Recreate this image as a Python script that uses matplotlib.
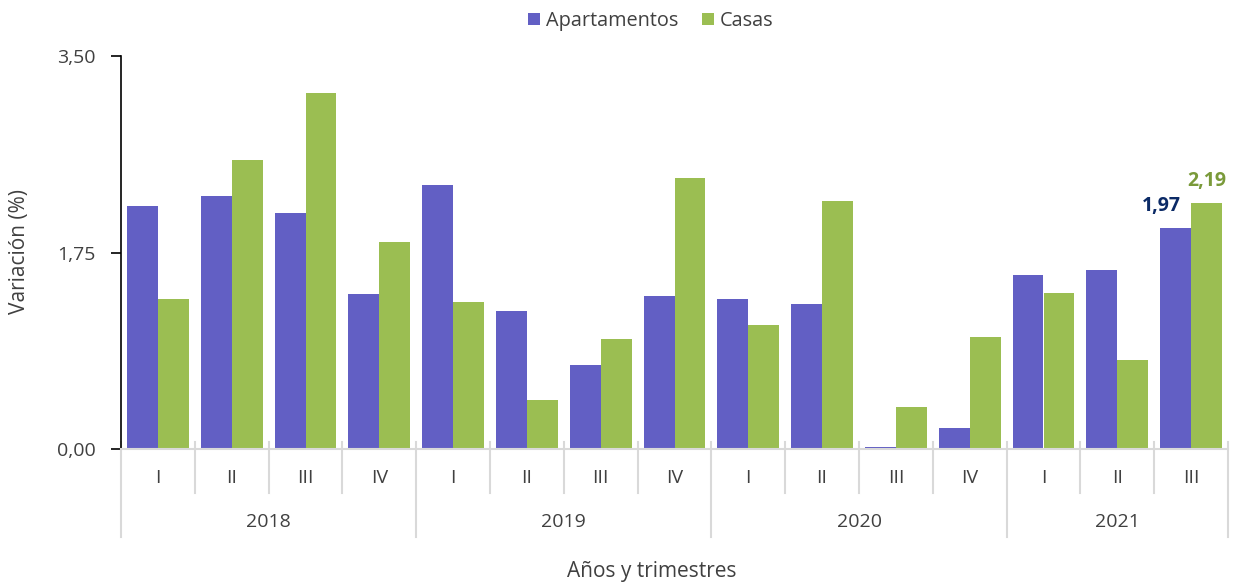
import matplotlib
matplotlib.use("Agg")
import matplotlib.pyplot as plt
import matplotlib.transforms as mtransforms
import numpy as np

plt.rcParams['font.family'] = ['Open Sans', 'DejaVu Sans']

years = ["2018", "2019", "2020", "2021"]
quarters = ["I", "II", "III", "IV", "I", "II", "III", "IV", "I", "II", "III", "IV", "I", "II", "III"]
quarters_per_year = [4, 4, 4, 3]
apartamentos = [2.16, 2.25, 2.10, 1.38, 2.35, 1.23, 0.75, 1.36, 1.34, 1.29, 0.02, 0.19, 1.55, 1.59, 1.97]
casas = [1.34, 2.57, 3.17, 1.84, 1.31, 0.44, 0.98, 2.41, 1.10, 2.21, 0.37, 1.00, 1.39, 0.79, 2.19]
series_names = ["Apartamentos", "Casas"]
yticks = [0.0, 1.75, 3.5]

c_apt = "#625FC4"
c_cas = "#9BBE52"
txt = "#404040"
sep = "#D9D9D9"

fig = plt.figure(figsize=(12.36, 5.86), dpi=100)
ax = fig.add_axes([121/1236, 1-449/586, (1228-121)/1236, (449-56)/586])

x = np.arange(len(quarters))
w = 0.42
b1 = ax.bar(x - w/2, apartamentos, w, color=c_apt, label=series_names[0], edgecolor="none")
b2 = ax.bar(x + w/2, casas, w, color=c_cas, label=series_names[1], edgecolor="none")

ax.set_xlim(-0.5, len(quarters) - 0.5)
ax.set_ylim(0, 3.5)
ax.set_yticks(yticks)
ax.set_yticklabels([f"{v:.2f}".replace(".", ",") for v in yticks], fontsize=14, color=txt)
ax.tick_params(axis='y', direction='out', length=7, width=1.2, color="black", pad=11)
ax.set_xticks([])

for s in ["top", "right"]:
    ax.spines[s].set_visible(False)
ax.spines["left"].set_color("black")
ax.spines["left"].set_linewidth(1.2)
ax.spines["bottom"].set_color(sep)
ax.spines["bottom"].set_linewidth(1.5)

# hierarchical axis
trans = mtransforms.blended_transform_factory(ax.transData, ax.transAxes)
ah = 393.0
year_bounds = np.cumsum([0] + quarters_per_year)
for i in range(len(quarters) + 1):
    xb = i - 0.5
    long_ = i in year_bounds
    y0 = -(88 if long_ else 44) / ah
    ax.plot([xb, xb], [7/ah, y0], transform=trans, color=sep, lw=1.5, clip_on=False, zorder=0)
for i, q in enumerate(quarters):
    ax.text(i, -29/ah, q, transform=trans, ha="center", va="center", fontsize=14, color=txt)
for k, yr in enumerate(years):
    c = (year_bounds[k] + year_bounds[k+1] - 1) / 2
    ax.text(c, -73/ah, yr, transform=trans, ha="center", va="center", fontsize=14, color=txt)

fig.text(652/1236, 1-572/586, "Años y trimestres", ha="center", va="center", fontsize=15, color=txt)
fig.text(20/1236, 1-252/586, "Variación (%)", rotation=90, ha="center", va="center", fontsize=15, color=txt)

# data labels for last quarter
last = len(quarters) - 1
ax.annotate(f"{apartamentos[last]:.2f}".replace(".", ","), xy=(last - w/2, apartamentos[last]),
            xytext=(4, 16), textcoords="offset points", ha="right", va="center",
            fontsize=14, fontweight="bold", color="#0B2A66")
ax.annotate(f"{casas[last]:.2f}".replace(".", ","), xy=(last + w/2, casas[last]),
            xytext=(0, 16), textcoords="offset points", ha="center", va="center",
            fontsize=14, fontweight="bold", color="#7A9A3A")

fig.legend(handles=[b1, b2], labels=series_names, loc="center", bbox_to_anchor=(651/1236, 1-21/586),
           ncol=2, frameon=False, fontsize=14.3, handlelength=0.6, handleheight=0.6,
           handletextpad=0.3, columnspacing=1.2, labelcolor=txt)

fig.savefig("out.png", dpi=100)
